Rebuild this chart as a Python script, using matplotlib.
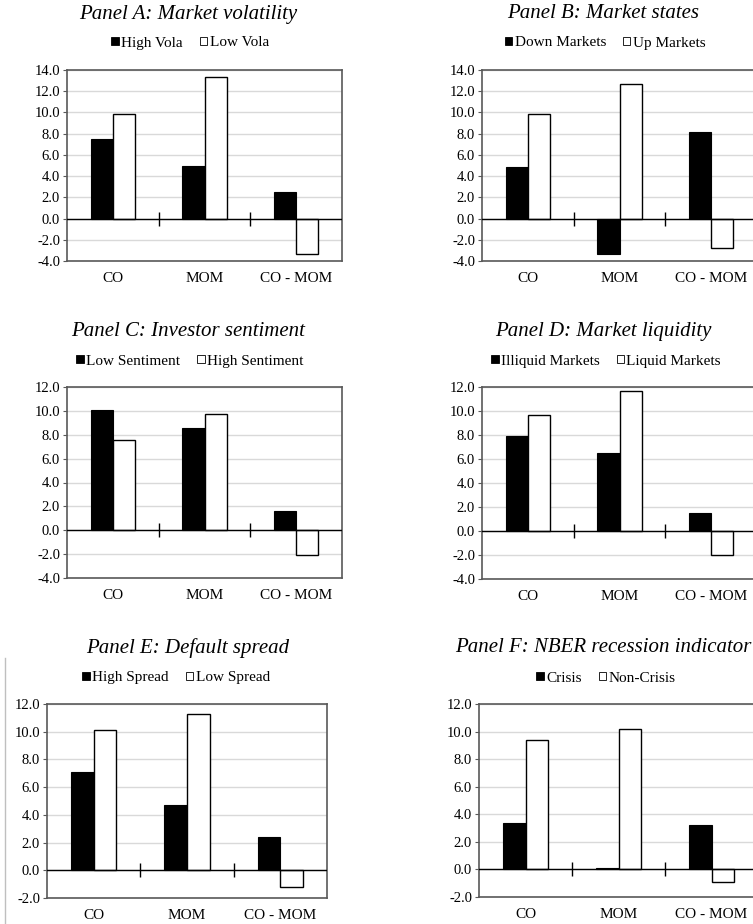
import matplotlib
matplotlib.use("Agg")
from matplotlib import pyplot as plt
from matplotlib.patches import Patch
from matplotlib.lines import Line2D
import numpy as np

plt.rcParams['font.family'] = ['Liberation Serif', 'DejaVu Serif']
plt.rcParams['axes.unicode_minus'] = False

cats = ["CO", "MOM", "CO - MOM"]

# Panel A: Market volatility
a_high = [7.5, 5.0, 2.5]
a_low = [9.9, 13.3, -3.3]
# Panel B: Market states
b_down = [4.9, -3.3, 8.2]
b_up = [9.9, 12.7, -2.8]
# Panel C: Investor sentiment
c_low = [10.1, 8.6, 1.6]
c_high = [7.6, 9.7, -2.1]
# Panel D: Market liquidity
d_illiq = [7.9, 6.5, 1.5]
d_liq = [9.7, 11.7, -2.0]
# Panel E: Default spread
e_high = [7.1, 4.7, 2.4]
e_low = [10.1, 11.3, -1.2]
# Panel F: NBER recession indicator
f_crisis = [3.4, 0.1, 3.2]
f_non = [9.4, 10.2, -0.9]

W, H = 753, 924
fig = plt.figure(figsize=(W / 100, H / 100), dpi=100)

# title, legend labels, data, y range, axes box (px: left, right, top, bottom),
# title centre (px), legend centre (px)
panels = [
    ("Panel A: Market volatility", ("High Vola", "Low Vola"), a_high, a_low, (-4, 14),
     (67, 342, 70, 261), (188, 14), (190, 43)),
    ("Panel B: Market states", ("Down Markets", "Up Markets"), b_down, b_up, (-4, 14),
     (482, 757, 70, 261), (603, 14), (605, 43)),
    ("Panel C: Investor sentiment", ("Low Sentiment", "High Sentiment"), c_low, c_high, (-4, 12),
     (67, 342, 387, 578), (188, 332), (190, 361)),
    ("Panel D: Market liquidity", ("Illiquid Markets", "Liquid Markets"), d_illiq, d_liq, (-4, 12),
     (482, 757, 387, 579), (603, 332), (606, 361)),
    ("Panel E: Default spread", ("High Spread", "Low Spread"), e_high, e_low, (-2, 12),
     (47, 327, 704, 898), (188, 648), (176, 678)),
    ("Panel F: NBER recession indicator", ("Crisis", "Non-Crisis"), f_crisis, f_non, (-2, 12),
     (479, 758, 704, 897), (603, 648), (606, 678)),
]

frame_col = '#595959'
grid_col = '#d9d9d9'
bw = 0.243

for title, labels, s1, s2, ylim, box, tpos, lpos in panels:
    l, r, t, b = box
    ax = fig.add_axes([l / W, 1 - b / H, (r - l) / W, (b - t) / H])
    x = np.arange(len(cats))
    ax.bar(x - bw / 2, s1, bw, color='black', edgecolor='black', linewidth=0.8, zorder=3)
    ax.bar(x + bw / 2, s2, bw, color='white', edgecolor='black', linewidth=1.0, zorder=3)
    ax.set_xlim(-0.5, 2.5)
    ax.set_ylim(*ylim)
    ax.set_yticks(np.arange(ylim[0], ylim[1] + 0.1, 2))
    ax.yaxis.set_major_formatter(matplotlib.ticker.FormatStrFormatter('%.1f'))
    ax.grid(axis='y', color=grid_col, linewidth=1.0, zorder=0)
    ax.axhline(0, color='black', linewidth=1.0, zorder=4)
    ax.plot([0.5, 1.5], [0, 0], linestyle='none', marker='|', markersize=10,
            markeredgewidth=1.0, color='black', zorder=4)
    ax.set_xticks(x)
    ax.set_xticklabels(cats)
    ax.tick_params(axis='x', length=0, pad=8, labelsize=11)
    ax.tick_params(axis='y', length=3, width=0.8, color=frame_col, pad=2, labelsize=10.5)
    for sp in ax.spines.values():
        sp.set_color(frame_col)
        sp.set_linewidth(1.2)
    fig.text(tpos[0] / W, 1 - tpos[1] / H, title, ha='center', va='center',
             fontsize=15, style='italic')
    handles = [Patch(facecolor='black', edgecolor='black', linewidth=0.6, label=labels[0]),
               Patch(facecolor='white', edgecolor='black', linewidth=0.6, label=labels[1])]
    fig.legend(handles=handles, loc='center', bbox_to_anchor=(lpos[0] / W, 1 - lpos[1] / H),
               ncol=2, frameon=False, fontsize=11, handlelength=0.5, handleheight=0.5,
               handletextpad=0.15, columnspacing=1.1, borderpad=0, borderaxespad=0)

# thin gray rule on the left of panel E
fig.add_artist(Line2D([5 / W, 5 / W], [0, 1 - 658 / H], color='#bfbfbf', linewidth=1.0))

fig.savefig('out.png', dpi=100)
